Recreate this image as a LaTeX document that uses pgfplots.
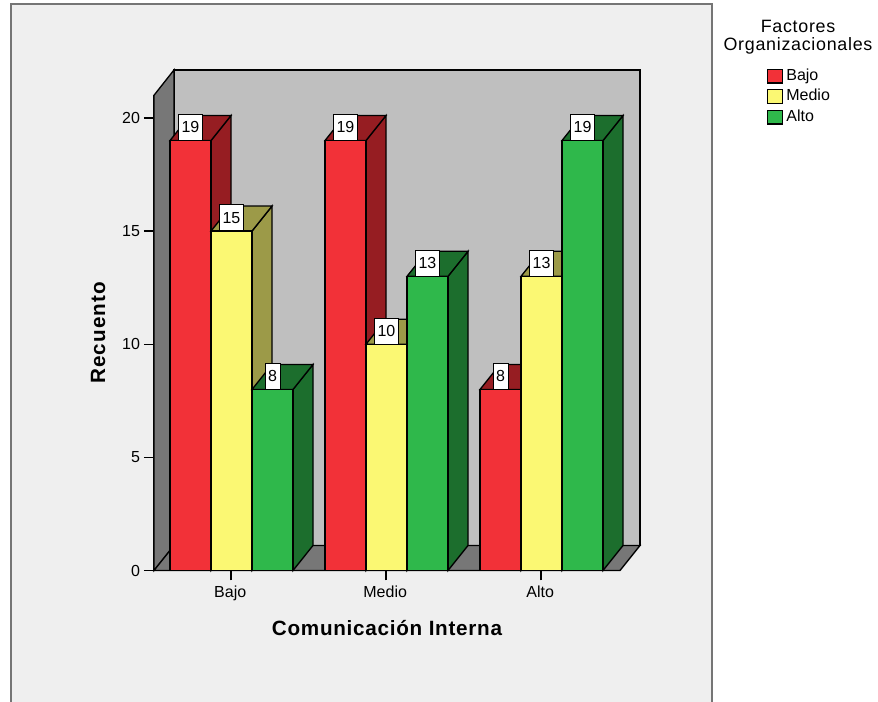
\documentclass[border=0pt]{standalone}
\usepackage{pgfplots}
\pgfplotsset{compat=1.18}
\usepackage{fontspec}
\setmainfont{Liberation Sans}
\newfontfamily\spacedbold[LetterSpace=3.5]{Liberation Sans}
\newfontfamily\widebold[LetterSpace=5]{Liberation Sans}
\newfontfamily\spacedreg[LetterSpace=4]{Liberation Sans}

\definecolor{panel}{HTML}{EFEFEF}
\definecolor{panelframe}{HTML}{757575}
\definecolor{wall}{HTML}{777777}
\definecolor{backwall}{HTML}{BFBFBF}
\definecolor{rojo}{HTML}{F23138}
\definecolor{rojoside}{HTML}{961D22}
\definecolor{amarillo}{HTML}{FBF873}
\definecolor{amarilloside}{HTML}{9C9A48}
\definecolor{verde}{HTML}{2FB84B}
\definecolor{verdeside}{HTML}{1C6E2D}

% horizontal and vertical depth of the box, in axis units
\def\depthx{20}
\def\depthy{1.105}
\def\barw{41}

% \boxbar{left edge}{count}{front colour}{side colour}
\newcommand{\boxbar}[4]{%
  \pgfmathsetmacro\xr{#1+\barw}%
  \pgfmathsetmacro\xrb{#1+\barw+\depthx}%
  \pgfmathsetmacro\xlb{#1+\depthx}%
  \pgfmathsetmacro\xc{#1+\barw/2}%
  \pgfmathsetmacro\yb{#2+\depthy}%
  \edef\drawbox{%
    \noexpand\addplot[draw=black,line width=1pt,fill=#4,forget plot]
      coordinates {(\xr,0) (\xrb,\depthy) (\xrb,\yb) (\xr,#2)} --cycle;
    \noexpand\addplot[draw=black,line width=1pt,fill=#4,forget plot]
      coordinates {(#1,#2) (\xlb,\yb) (\xrb,\yb) (\xr,#2)} --cycle;
    \noexpand\addplot[draw=black,line width=1pt,fill=#3,forget plot]
      coordinates {(#1,0) (\xr,0) (\xr,#2) (#1,#2)} --cycle;
    \noexpand\node[draw=black,line width=0.5pt,fill=white,inner sep=0pt,
      minimum height=19.5pt,minimum width=10pt,
      inner xsep=2.4pt,anchor=south,font=\noexpand\fontsize{12}{14}\noexpand\selectfont]
      at (axis cs:\xc,#2) {#2};
  }%
  \drawbox
}

\begin{document}
\begin{tikzpicture}
  % page background and the chart panel, open at the lower edge
  \fill[white] (-115.5pt,-98.625pt) rectangle (543pt,427.875pt);
  \useasboundingbox (-115.5pt,-98.625pt) rectangle (543pt,427.875pt);
  \fill[panel] (-107pt,-98.625pt) rectangle (418.5pt,424.5pt);
  \draw[panelframe,line width=1.5pt] (-107pt,-98.625pt) -- (-107pt,424.5pt)
    -- (418.5pt,424.5pt) -- (418.5pt,-98.625pt);
  \begin{axis}[
      scale only axis,
      width=349.5pt,
      height=356.4pt,
      xmin=154, xmax=620,
      ymin=0, ymax=21,
      clip=false,
      axis x line=bottom,
      axis y line=left,
      axis line style={-,line width=1pt,black},
      xtick={231,386,541},
      xticklabels={Bajo,Medio,Alto},
      ytick={0,5,10,15,20},
      tick align=outside,
      major tick length=7.5pt,
      tick style={black,line width=0.9pt},
      every tick label/.append style={font=\fontsize{12}{14}\selectfont},
      /pgf/number format/assume math mode=true,
      yticklabel style={xshift=0.5pt},
      xticklabel style={yshift=-0.5pt,xshift=-0.6pt},
      xlabel={\spacedbold\bfseries Comunicación Interna},
      ylabel={\widebold\bfseries Recuento},
      xlabel style={at={(axis description cs:0.5,-0.121)},anchor=center,
        font=\fontsize{15.5}{18}\selectfont},
      ylabel style={at={(axis description cs:-0.12,0.5)},anchor=center,
        font=\fontsize{15.5}{18}\selectfont},
      legend cell align=left,
      legend image code/.code={
        \draw[#1,line width=1pt] (0pt,-5.2pt) rectangle (11pt,5.2pt);
      },
      legend style={
        at={(axis cs:767,22.2)},anchor=north west,
        draw=none,fill=none,inner sep=0pt,outer sep=0pt,
        font=\fontsize{12}{14}\selectfont,
        row sep=3.4pt,
        nodes={text height=9pt,text depth=3pt,inner sep=0pt,inner xsep=2.5pt},
      },
    ]
    % back wall, left wall and floor of the box
    \addplot[draw=black,line width=1pt,fill=backwall,forget plot]
      coordinates {(174,1.105) (640,1.105) (640,22.12) (174,22.12)} --cycle;
    \addplot[draw=black,line width=1pt,fill=wall,forget plot]
      coordinates {(154,0) (174,1.105) (174,22.12) (154,21)} --cycle;
    \addplot[draw=black,line width=1pt,fill=wall,forget plot]
      coordinates {(154,0) (620,0) (640,1.105) (174,1.105)} --cycle;

    % Comunicación Interna: Bajo
    \boxbar{170}{19}{rojo}{rojoside}
    \boxbar{211}{15}{amarillo}{amarilloside}
    \boxbar{252}{8}{verde}{verdeside}
    % Comunicación Interna: Medio
    \boxbar{325}{19}{rojo}{rojoside}
    \boxbar{366}{10}{amarillo}{amarilloside}
    \boxbar{407}{13}{verde}{verdeside}
    % Comunicación Interna: Alto
    \boxbar{480}{8}{rojo}{rojoside}
    \boxbar{521}{13}{amarillo}{amarilloside}
    \boxbar{562}{19}{verde}{verdeside}

    \addlegendimage{fill=rojo,draw=black}
    \addlegendentry{Bajo}
    \addlegendimage{fill=amarillo,draw=black}
    \addlegendentry{Medio}
    \addlegendimage{fill=verde,draw=black}
    \addlegendentry{Alto}

    \node[font=\fontsize{13.4}{15}\selectfont\spacedreg] at (axis cs:798,24.03) {Factores};
    \node[font=\fontsize{13.4}{15}\selectfont\spacedreg] at (axis cs:798,23.17) {Organizacionales};
  \end{axis}
\end{tikzpicture}
\end{document}
